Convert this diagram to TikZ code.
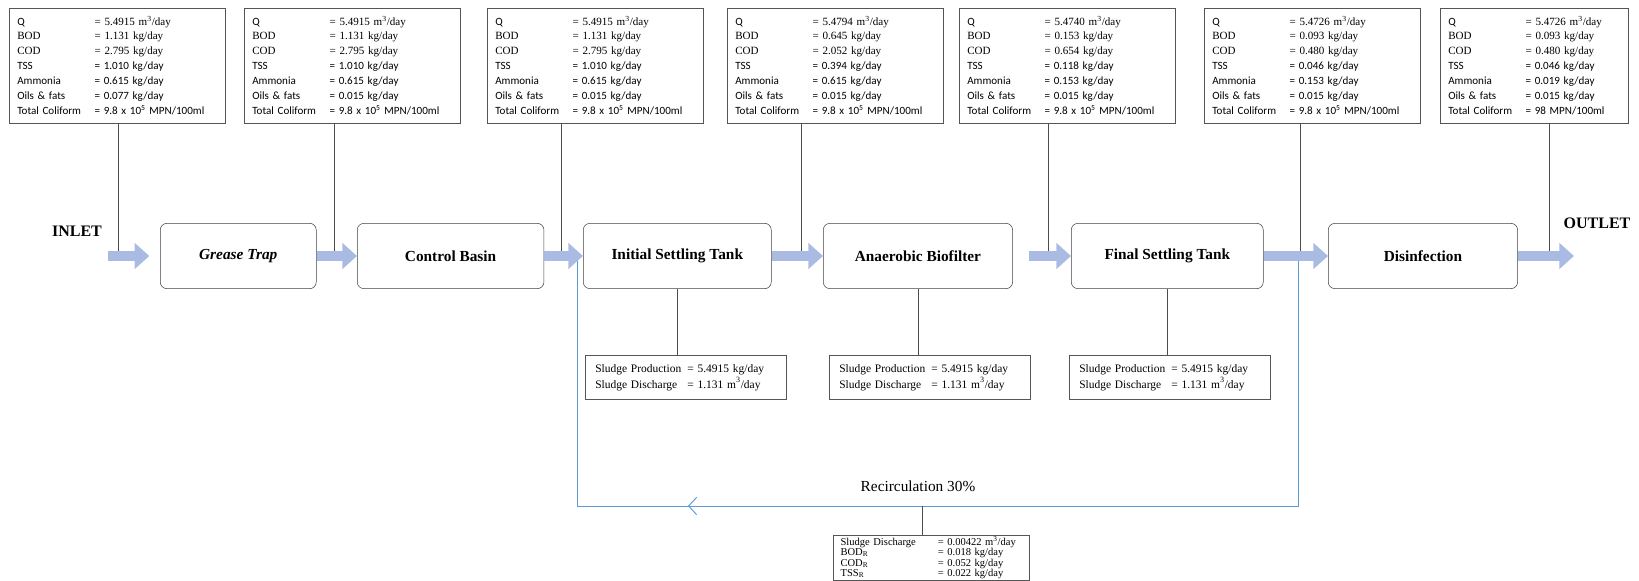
\documentclass[tikz,border=0pt]{standalone}
\usepackage{fontspec}
\setmainfont{Liberation Serif}
\setsansfont{Carlito}
\usetikzlibrary{arrows.meta, positioning}

\definecolor{flowblue}{RGB}{170,187,227}
\definecolor{recblue}{RGB}{91,155,213}
\definecolor{boxgray}{RGB}{85,85,85}

% one row of a quality box: label column, then value
\newcommand{\qrow}[3]{\makebox[#1][l]{#2}{#3}}
\newcommand{\mday}{m\textsuperscript{3}/day}
\newcommand{\qualities}[7]{%
  \qrow{58pt}{Q}{\rmfamily = #1 \mday}\\
  \qrow{58pt}{\rmfamily BOD}{\rmfamily = #2 kg/day}\\
  \qrow{58pt}{\rmfamily COD}{\rmfamily = #3 kg/day}\\
  \qrow{58pt}{TSS}{= #4 kg/day}\\
  \qrow{58pt}{Ammonia}{= #5 kg/day}\\
  \qrow{58pt}{Oils \& fats}{= #6 kg/day}\\
  \qrow{58pt}{Total Coliform}{= #7}}
\newcommand{\sludgetext}{%
  \qrow{69pt}{Sludge Production}{= 5.4915 kg/day}\\
  \qrow{69pt}{Sludge Discharge}{= 1.131 \mday}}

\begin{document}
\begin{tikzpicture}[
    x=0.75pt, y=-0.75pt,
    quality/.style={draw=boxgray, anchor=north west, align=left, inner xsep=6pt,
      inner ysep=3pt, minimum height=86pt, text width=150pt,
      font=\sffamily\fontsize{8.3}{11.2}\selectfont},
    unit/.style={draw=black!75, rounded corners=5pt, anchor=west,
      minimum height=49pt, font=\bfseries\fontsize{11.5}{13}\selectfont},
    sludge/.style={draw=boxgray, anchor=north west, align=left, inner xsep=7.5pt,
      minimum height=33pt, text width=136pt, font=\fontsize{8.6}{12}\selectfont},
    flow/.style={draw=flowblue, line width=8pt, -{Triangle[length=11pt, width=19pt]}},
    tap/.style={draw=black!70, line width=0.6pt},
    recirc/.style={draw=recblue, line width=0.7pt}
  ]
    \useasboundingbox (0,0) rectangle (1639,581);

    % treatment units
    \node[unit, minimum width=117pt] (gt)  at (160,256) {\itshape Grease Trap};
    \node[unit, minimum width=140pt] (cb)  at (357,256) {Control Basin};
    \node[unit, minimum width=141pt] (ist) at (583,256) {Initial Settling Tank};
    \node[unit, minimum width=142pt] (ab)  at (823,256) {Anaerobic Biofilter};
    \node[unit, minimum width=144pt] (fst) at (1071,256) {Final Settling Tank};
    \node[unit, minimum width=142pt] (dis) at (1328,256) {Disinfection};

    \node[font=\bfseries\fontsize{12}{14}\selectfont] (inl) at (77,231) {INLET};
    \node[font=\bfseries\fontsize{12}{14}\selectfont] (outl) at (1597,223) {OUTLET};

    % quality boxes
    \node[quality] (q1) at (9,8)    {\qualities{5.4915}{1.131}{2.795}{1.010}{0.615}{0.077}{9.8 x 10\textsuperscript{5} MPN/100ml}};
    \node[quality] (q2) at (244,8)  {\qualities{5.4915}{1.131}{2.795}{1.010}{0.615}{0.015}{9.8 x 10\textsuperscript{5} MPN/100ml}};
    \node[quality] (q3) at (487,8)  {\qualities{5.4915}{1.131}{2.795}{1.010}{0.615}{0.015}{9.8 x 10\textsuperscript{5} MPN/100ml}};
    \node[quality] (q4) at (727,8)  {\qualities{5.4794}{0.645}{2.052}{0.394}{0.615}{0.015}{9.8 x 10\textsuperscript{5} MPN/100ml}};
    \node[quality] (q5) at (959,8)  {\qualities{5.4740}{0.153}{0.654}{0.118}{0.153}{0.015}{9.8 x 10\textsuperscript{5} MPN/100ml}};
    \node[quality] (q6) at (1204,8) {\qualities{5.4726}{0.093}{0.480}{0.046}{0.153}{0.015}{9.8 x 10\textsuperscript{5} MPN/100ml}};
    \node[quality, text width=129pt] (q7) at (1440,8) {\qualities{5.4726}{0.093}{0.480}{0.046}{0.019}{0.015}{98 MPN/100ml}};

    % sludge boxes
    \node[sludge] (s1) at (585,355)  {\sludgetext};
    \node[sludge] (s2) at (829,355)  {\sludgetext};
    \node[sludge] (s3) at (1069,355) {\sludgetext};

    \node[font=\fontsize{11.5}{13}\selectfont] (rl) at (918,486) {Recirculation 30\%};
    \node[sludge, minimum height=0pt, text width=136pt, inner xsep=5.5pt, inner ysep=1pt,
      font=\fontsize{7.9}{7.8}\selectfont] (rb) at (833,535) {%
      \qrow{73pt}{Sludge Discharge}{= 0.00422 \mday}\\
      \qrow{73pt}{BOD\textsubscript{R}}{= 0.018 kg/day}\\
      \qrow{73pt}{COD\textsubscript{R}}{= 0.052 kg/day}\\
      \qrow{73pt}{TSS\textsubscript{R}}{= 0.022 kg/day}};

    % tap points on the flow line
    \coordinate (t1) at (118,256);
    \coordinate (t2) at (334,256);
    \coordinate (t3) at (561,256);
    \coordinate (t4) at (801,256);
    \coordinate (t5) at (1048,256);
    \coordinate (t6) at (1300,256);
    \coordinate (t7) at (1549,256);
    \coordinate (inA) at (108,256);
    \coordinate (outB) at (1574,256);

    \foreach \i in {1,...,7}
      \draw[tap] (t\i) -- (t\i |- q\i.south);

    \draw[tap] (ist.south) -- (ist.south |- s1.north);
    \draw[tap] (ab.south) -- (ab.south |- s2.north);
    \draw[tap] (fst.south) -- (fst.south |- s3.north);

    % recirculation loop
    \coordinate (r1) at (577,256);
    \coordinate (r2) at (577,506);
    \coordinate (r3) at (1298,506);
    \coordinate (r4) at (1298,256);
    \coordinate (rhead) at (688,506);
    \coordinate (rtap) at (922,506);
    \draw[recirc] (r4) -- (r3) -- (r2) -- (r1);
    \draw[recirc, -{Straight Barb[length=6pt, width=13pt]}] (r3) -- (rhead);
    \draw[tap] (rtap) -- (rb.north -| rtap);

    % main flow
    \draw[flow, shorten >=8pt] (inA) -- (gt.west);
    \draw[flow] (gt) -- (cb);
    \draw[flow] (cb) -- (ist);
    \draw[flow] (ist) -- (ab);
    \draw[flow, shorten <=12pt] (ab) -- (fst);
    \draw[flow] (fst) -- (dis);
    \draw[flow] (dis) -- (outB);
\end{tikzpicture}
\end{document}
